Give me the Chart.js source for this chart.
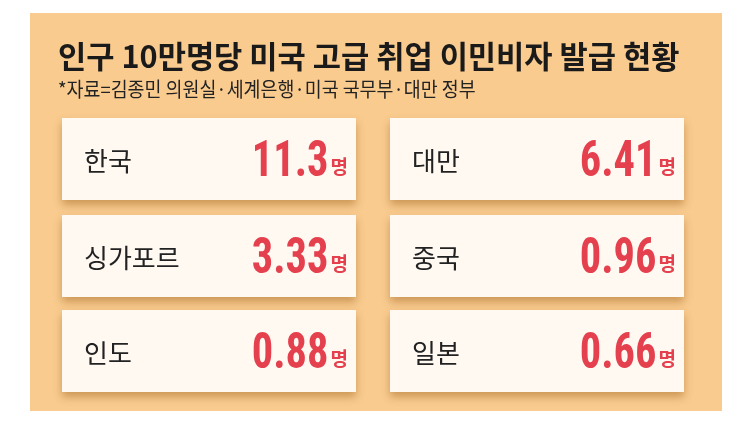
<!DOCTYPE html>
<html><head><meta charset="utf-8">
<script src="https://cdn.jsdelivr.net/npm/chart.js@4"></script>
<style>html,body{margin:0;padding:0;background:#fff;}#wrap{width:747px;height:440px;}</style>
</head><body><div id="wrap"><canvas id="c"></canvas></div>
<script>
const title = '인구 10만명당 미국 고급 취업 이민비자 발급 현황';
const source = '*자료=김종민 의원실·세계은행·미국 국무부·대만 정부';
const countries = ['한국','대만','싱가포르','중국','인도','일본'];
const values = [11.3, 6.41, 3.33, 0.96, 0.88, 0.66];
const valueLabels = ['11.3','6.41','3.33','0.96','0.88','0.66'];
const unit = '명';
const F = '"Noto Sans CJK KR", "Noto Sans", sans-serif';

const cards = {
  id:'cards',
  beforeDraw(chart){
    const ctx = chart.ctx;
    ctx.save();
    ctx.fillStyle='#fff'; ctx.fillRect(0,0,747,440);
    ctx.fillStyle='#F9CB8F'; ctx.fillRect(30,13,692,398);
    ctx.fillStyle='#1a1a1a'; ctx.font='bold 31px '+F; ctx.textBaseline='alphabetic';
    ctx.save(); ctx.translate(58,68); ctx.scale(0.99,1); ctx.fillText(title,0,0); ctx.restore();
    ctx.font='20px '+F; ctx.fillStyle='#222';
    ctx.save(); ctx.translate(58,97); ctx.scale(0.92,1); ctx.fillText(source,0,0); ctx.restore();
    const colX=[62,390], rowY=[118,215,310], w=294, h=82;
    countries.forEach((c,i)=>{
      const x=colX[i%2], y=rowY[Math.floor(i/2)];
      ctx.save();
      ctx.shadowColor='rgba(150,90,20,0.45)'; ctx.shadowBlur=8; ctx.shadowOffsetY=5;
      ctx.fillStyle='#FFF9F1'; ctx.fillRect(x,y,w,h);
      ctx.restore();
      ctx.fillStyle='#222'; ctx.font='26px '+F; ctx.textAlign='left'; ctx.textBaseline='middle';
      ctx.fillText(c,x+22,y+h/2+2);
      ctx.fillStyle='#E5404E'; ctx.textAlign='right';
      ctx.font='bold 19px '+F;
      const uw=ctx.measureText(unit).width;
      ctx.fillText(unit,x+w-8,y+h/2+8);
      ctx.font='bold 50px "Roboto Condensed", "Liberation Sans Narrow", Roboto, sans-serif';
      ctx.save(); ctx.translate(x+w-10-uw,y+h/2+4); ctx.scale(0.85,1);
      ctx.fillText(valueLabels[i],0,0); ctx.restore();
    });
    ctx.restore();
  }
};
new Chart(document.getElementById('c'),{
  type:'bar',
  data:{labels:countries,datasets:[{data:values,backgroundColor:'rgba(0,0,0,0)'}]},
  options:{responsive:true,maintainAspectRatio:false,animation:false,
    plugins:{legend:{display:false},tooltip:{enabled:false}},
    scales:{x:{display:false},y:{display:false}}},
  plugins:[cards]
});
</script></body></html>
